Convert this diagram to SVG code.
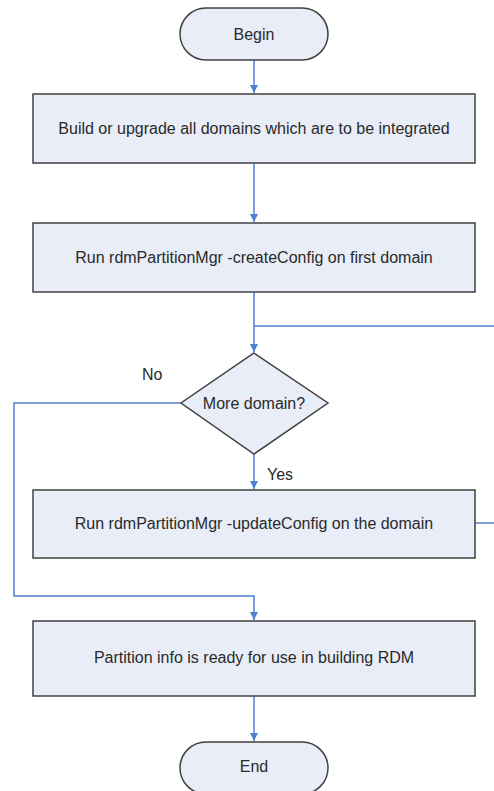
<svg xmlns="http://www.w3.org/2000/svg" width="494" height="791" viewBox="0 0 494 791">
<style>
.n{fill:#e8edf7;stroke:#404040;stroke-width:1.5}
.t{font-family:"Liberation Sans",Arial,sans-serif;font-size:16px;fill:#2a2a2a;text-anchor:middle;dominant-baseline:central}
.c{fill:none;stroke:#4f81d0;stroke-width:1.5}
.l{font-family:"Liberation Sans",Arial,sans-serif;font-size:16px;fill:#2a2a2a;dominant-baseline:central}
</style>
<defs>
<marker id="a" markerWidth="10" markerHeight="10" refX="8" refY="4" orient="auto" markerUnits="userSpaceOnUse">
<path d="M0,0 L8,4 L0,8 Z" fill="#4f81d0"/>
</marker>
</defs>
<rect width="494" height="791" fill="#fff"/>
<g id="connectors">
<path class="c" d="M254,60 V93" marker-end="url(#a)"/>
<path class="c" d="M254,163 V222" marker-end="url(#a)"/>
<path class="c" d="M254,292 V352" marker-end="url(#a)"/>
<path class="c" d="M254,326 H494"/>
<path class="c" d="M254,454 V489" marker-end="url(#a)"/>
<path class="c" d="M475,523 H494"/>
<path class="c" d="M181,403 H14 V596 H254 V620" marker-end="url(#a)"/>
<path class="c" d="M254,696 V741" marker-end="url(#a)"/>
</g>
<g id="begin">
<rect class="n" x="180" y="8" width="148" height="52" rx="26"/>
<text class="t" x="254" y="34">Begin</text>
</g>
<g id="build">
<rect class="n" x="33" y="94" width="442" height="69"/>
<text class="t" x="254" y="128">Build or upgrade all domains which are to be integrated</text>
</g>
<g id="create">
<rect class="n" x="33" y="223" width="442" height="69"/>
<text class="t" x="254" y="257">Run rdmPartitionMgr -createConfig on first domain</text>
</g>
<g id="decision">
<polygon class="n" points="254,353 328,403 254,454 181,403"/>
<text class="t" x="254" y="403">More domain?</text>
</g>
<g id="update">
<rect class="n" x="33" y="490" width="442" height="68"/>
<text class="t" x="254" y="523">Run rdmPartitionMgr -updateConfig on the domain</text>
</g>
<g id="ready">
<rect class="n" x="33" y="621" width="442" height="75"/>
<text class="t" x="254" y="657">Partition info is ready for use in building RDM</text>
</g>
<g id="end">
<rect class="n" x="180" y="742" width="148" height="52" rx="26"/>
<text class="t" x="254" y="766">End</text>
</g>
<g id="labels">
<text class="l" x="142" y="374">No</text>
<text class="l" x="267" y="474">Yes</text>
</g>
</svg>
